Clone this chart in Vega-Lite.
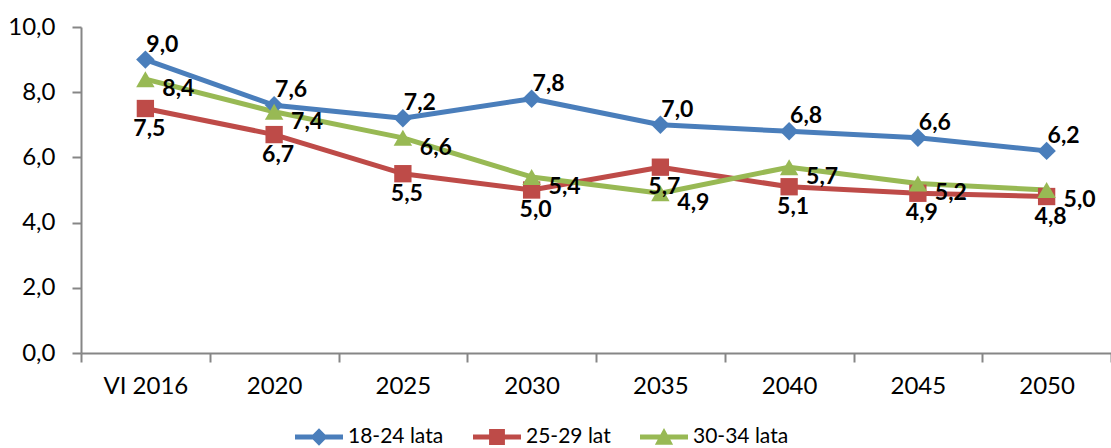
{
  "$schema": "https://vega.github.io/schema/vega-lite/v6.json",
  "autosize": "none",
  "width": 1030,
  "height": 326,
  "padding": {"left": 81, "top": 27, "right": 0, "bottom": 95},
  "background": "white",
  "config": {
    "view": {"stroke": null},
    "locale": {"number": {"decimal": ",", "thousands": " ", "grouping": [3], "currency": ["", " zł"]}},
    "font": "Lato"
  },
  "data": {
    "values": [
      {"year": "VI 2016", "series": "18-24 lata", "value": 9.0},
      {"year": "2020", "series": "18-24 lata", "value": 7.6},
      {"year": "2025", "series": "18-24 lata", "value": 7.2},
      {"year": "2030", "series": "18-24 lata", "value": 7.8},
      {"year": "2035", "series": "18-24 lata", "value": 7.0},
      {"year": "2040", "series": "18-24 lata", "value": 6.8},
      {"year": "2045", "series": "18-24 lata", "value": 6.6},
      {"year": "2050", "series": "18-24 lata", "value": 6.2},
      {"year": "VI 2016", "series": "25-29 lat", "value": 7.5},
      {"year": "2020", "series": "25-29 lat", "value": 6.7},
      {"year": "2025", "series": "25-29 lat", "value": 5.5},
      {"year": "2030", "series": "25-29 lat", "value": 5.0},
      {"year": "2035", "series": "25-29 lat", "value": 5.7},
      {"year": "2040", "series": "25-29 lat", "value": 5.1},
      {"year": "2045", "series": "25-29 lat", "value": 4.9},
      {"year": "2050", "series": "25-29 lat", "value": 4.8},
      {"year": "VI 2016", "series": "30-34 lata", "value": 8.4},
      {"year": "2020", "series": "30-34 lata", "value": 7.4},
      {"year": "2025", "series": "30-34 lata", "value": 6.6},
      {"year": "2030", "series": "30-34 lata", "value": 5.4},
      {"year": "2035", "series": "30-34 lata", "value": 4.9},
      {"year": "2040", "series": "30-34 lata", "value": 5.7},
      {"year": "2045", "series": "30-34 lata", "value": 5.2},
      {"year": "2050", "series": "30-34 lata", "value": 5.0}
    ]
  },
  "encoding": {
    "x": {
      "field": "year", "type": "nominal", "sort": null,
      "scale": {"type": "band", "paddingInner": 0, "paddingOuter": 0},
      "axis": {
        "title": null, "labelAngle": 0, "tickBand": "extent",
        "domainColor": "#868686", "domainWidth": 2, "tickColor": "#868686", "tickWidth": 2, "tickSize": 9,
        "labelFont": "Lato", "labelFontSize": 24, "labelColor": "#000000", "labelPadding": 12, "grid": false
      }
    },
    "y": {
      "field": "value", "type": "quantitative",
      "scale": {"domain": [0, 10], "nice": false, "zero": true},
      "axis": {
        "title": null, "values": [0, 2, 4, 6, 8, 10], "format": ".1f",
        "domainColor": "#868686", "domainWidth": 2, "tickColor": "#868686", "tickWidth": 2, "tickSize": 9,
        "labelFont": "Lato", "labelFontSize": 24, "labelColor": "#000000", "labelPadding": 17, "grid": false
      }
    },
    "color": {
      "field": "series", "type": "nominal",
      "scale": {"domain": ["18-24 lata", "25-29 lat", "30-34 lata"], "range": ["#4A7EBB", "#BE4B48", "#98B954"]},
      "legend": {
        "orient": "none", "legendX": 214, "legendY": 386, "direction": "horizontal", "title": null,
        "labelFont": "Lato", "labelFontSize": 21, "labelColor": "#000000", "labelOffset": 5,
        "symbolSize": 2304, "columnPadding": 29,
        "encode": {
          "symbols": {
            "update": {
              "shape": {"signal": "datum.value === '18-24 lata' ? 'M-1,-0.1L1,-0.1L1,0.1L-1,0.1Z M0,-0.36L0.36,0L0,0.36L-0.36,0Z' : datum.value === '25-29 lat' ? 'M-1,-0.1L1,-0.1L1,0.1L-1,0.1Z M-0.33,-0.33L0.33,-0.33L0.33,0.33L-0.33,0.33Z' : 'M-1,-0.1L1,-0.1L1,0.1L-1,0.1Z M0,-0.38L0.38,0.32L-0.38,0.32Z'"},
              "fill": {"signal": "scale('color', datum.value)"},
              "stroke": {"value": "transparent"},
              "strokeWidth": {"value": 0},
              "opacity": {"value": 1}
            }
          }
        }
      }
    }
  },
  "layer": [
    {
      "mark": {"type": "line", "strokeWidth": 5, "strokeJoin": "round", "strokeCap": "round"}
    },
    {
      "transform": [{"filter": "datum.series === '18-24 lata'"}],
      "mark": {"type": "point", "filled": true, "opacity": 1, "size": 340, "shape": "diamond"}
    },
    {
      "transform": [{"filter": "datum.series === '25-29 lat'"}],
      "mark": {"type": "point", "filled": true, "opacity": 1, "size": 300, "shape": "square"}
    },
    {
      "transform": [{"filter": "datum.series === '30-34 lata'"}],
      "mark": {"type": "point", "filled": true, "opacity": 1, "size": 340, "shape": "triangle-up"}
    },
    {
      "transform": [{"filter": "datum.series === '18-24 lata'"}],
      "mark": {"type": "text", "font": "Lato", "fontSize": 23, "fontWeight": "bold", "color": "#000000", "dx": 17, "dy": -15, "align": "center", "baseline": "middle"},
      "encoding": {"text": {"field": "value", "type": "quantitative", "format": ".1f"}, "color": {"value": "#000000"}}
    },
    {
      "transform": [{"filter": "datum.series === '25-29 lat'"}],
      "mark": {"type": "text", "font": "Lato", "fontSize": 23, "fontWeight": "bold", "color": "#000000", "dx": 4, "dy": 20, "align": "center", "baseline": "middle"},
      "encoding": {"text": {"field": "value", "type": "quantitative", "format": ".1f"}, "color": {"value": "#000000"}}
    },
    {
      "transform": [{"filter": "datum.series === '30-34 lata'"}],
      "mark": {"type": "text", "font": "Lato", "fontSize": 23, "fontWeight": "bold", "color": "#000000", "dx": 33, "dy": 10, "align": "center", "baseline": "middle"},
      "encoding": {"text": {"field": "value", "type": "quantitative", "format": ".1f"}, "color": {"value": "#000000"}}
    }
  ]
}
